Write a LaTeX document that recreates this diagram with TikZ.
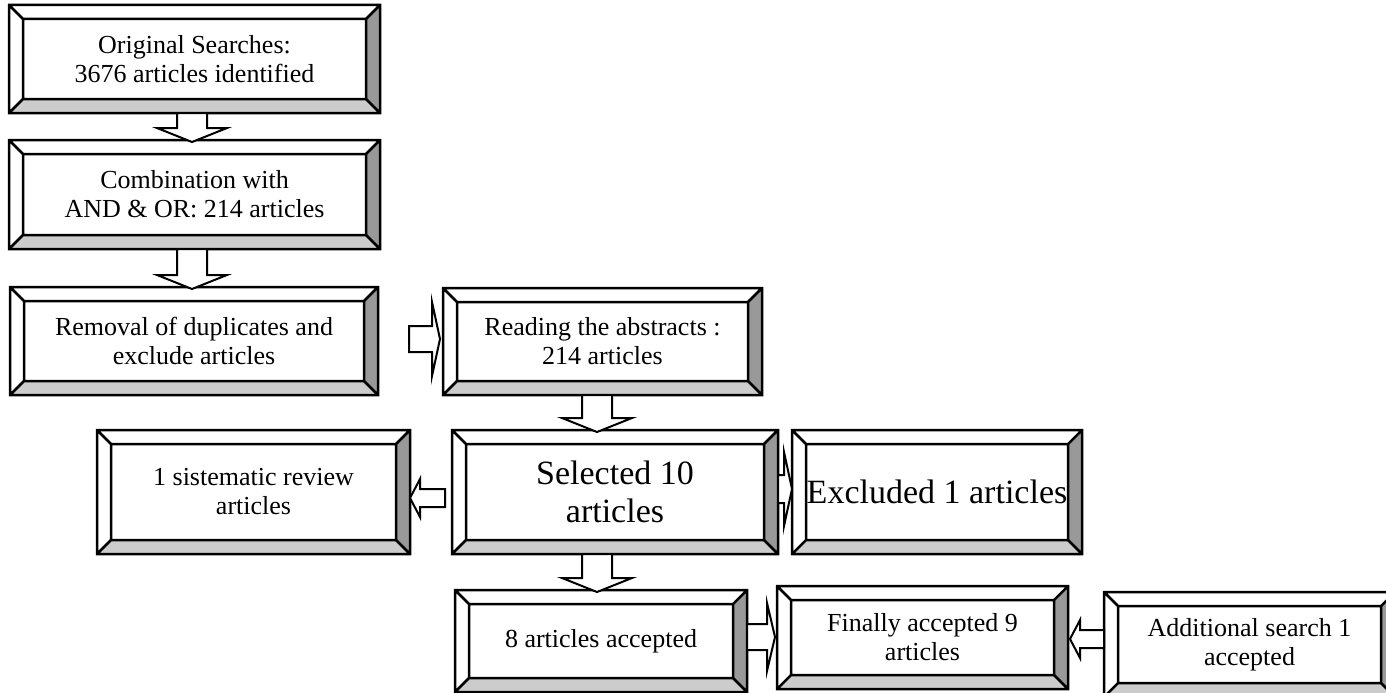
\documentclass[tikz,border=0pt]{standalone}
\usepackage{fontspec}
\setmainfont{Liberation Serif}
\usetikzlibrary{calc}
\definecolor{bevR}{HTML}{999999}
\definecolor{bevB}{HTML}{CCCCCC}
\def\bw{14}
\tikzset{
  boxline/.style={line width=2.5pt, line join=miter},
  blk/.style={draw, fill=white, line width=2pt, line join=miter},
  txt/.style={font=\fontsize{26}{29}\selectfont, align=center, inner sep=0pt, outer sep=0pt},
  bigtxt/.style={font=\fontsize{34}{38}\selectfont, align=center, inner sep=0pt, outer sep=0pt},
}
% bevelled box: [style]{name}{x1}{y1}{x2}{y2}{text}
\newcommand\bbox[7][txt]{%
  \fill[white] (#3,#4) rectangle (#5,#6);
  \fill[bevR] (#5,#4) -- (#5-\bw,#4+\bw) -- (#5-\bw,#6-\bw) -- (#5,#6) -- cycle;
  \fill[bevB] (#3,#6) -- (#3+\bw,#6-\bw) -- (#5-\bw,#6-\bw) -- (#5,#6) -- cycle;
  \draw[boxline] (#3,#4) rectangle (#5,#6)
    (#3+\bw,#4+\bw) rectangle (#5-\bw,#6-\bw)
    (#3,#4) -- (#3+\bw,#4+\bw) (#5,#4) -- (#5-\bw,#4+\bw)
    (#3,#6) -- (#3+\bw,#6-\bw) (#5,#6) -- (#5-\bw,#6-\bw);
  \node[#1, minimum width={(#5-#3)*1pt}, minimum height={(#6-#4)*1pt}] (#2) at ({(#3+#5)/2},{(#4+#6)/2}) {#7};
}
% down block arrow: {from}{to}{centre x}
\newcommand\darr[3]{%
  \draw[blk] let \p1=(#1.south), \p2=(#2.north) in
    ({#3pt-15pt},\y1) -- ({#3pt-15pt},\y2+12pt) -- ({#3pt-35pt},\y2+12pt) -- (#3pt,\y2-2pt)
    -- ({#3pt+35pt},\y2+12pt) -- ({#3pt+15pt},\y2+12pt) -- ({#3pt+15pt},\y1) -- cycle;
}
% right block arrow: {from}{to}{y}{start gap}{base before}{tip before}{shaft half}{head half}
\newcommand\rarr[8]{%
  \draw[blk] let \p1=(#1.east), \p2=(#2.west) in
    (\x1+#4pt,{-#3pt+#7pt}) -- (\x2-#5pt,{-#3pt+#7pt}) -- (\x2-#5pt,{-#3pt+#8pt}) -- (\x2-#6pt,{-#3pt})
    -- (\x2-#5pt,{-#3pt-#8pt}) -- (\x2-#5pt,{-#3pt-#7pt}) -- (\x1+#4pt,{-#3pt-#7pt}) -- cycle;
}
% left block arrow
\newcommand\larr[8]{%
  \draw[blk] let \p1=(#1.west), \p2=(#2.east) in
    (\x1-#4pt,{-#3pt+#7pt}) -- (\x2+#5pt,{-#3pt+#7pt}) -- (\x2+#5pt,{-#3pt+#8pt}) -- (\x2+#6pt,{-#3pt})
    -- (\x2+#5pt,{-#3pt-#8pt}) -- (\x2+#5pt,{-#3pt-#7pt}) -- (\x1-#4pt,{-#3pt-#7pt}) -- cycle;
}
\begin{document}
\begin{tikzpicture}[x=1pt,y=-1pt]
\useasboundingbox (0,0) rectangle (1386,693);
\clip (0,0) rectangle (1386,693);
\fill[white] (0,0) rectangle (1386,693);
\bbox{b1}{9}{5}{380}{113}{Original Searches:\\3676 articles identified}
\bbox{b2}{9}{140}{380}{249}{Combination with\\AND \& OR: 214 articles}
\bbox{b3}{10}{287}{378}{395}{Removal of duplicates and\\exclude articles}
\bbox{b4}{443}{288}{762}{395}{Reading the abstracts :\\214 articles}
\bbox[bigtxt]{b5}{452}{430}{778}{554}{Selected 10\\articles}
\bbox{b6}{97}{430}{410}{554}{1 sistematic review\\articles}
\bbox[bigtxt]{b7}{792}{430}{1082}{554}{Excluded 1 articles}
\bbox{b8}{455}{590}{747}{692}{8 articles accepted}
\bbox{b9}{777}{586}{1068}{689}{Finally accepted 9\\articles}
\bbox{b10}{1104}{592}{1395}{697}{Additional search 1\\accepted}
\darr{b1}{b2}{192}
\darr{b2}{b3}{192}
\darr{b4}{b5}{597}
\darr{b5}{b8}{597}
\rarr{b3}{b4}{339}{31}{11}{3}{13}{37}
\rarr{b5}{b7}{489}{0}{8}{0}{14}{37}
\rarr{b8}{b9}{637}{0}{10}{2}{13}{34}
\larr{b5}{b6}{498}{7}{10}{0}{9}{19}
\larr{b10}{b9}{639}{0}{12}{2}{9}{19}
\end{tikzpicture}
\end{document}
